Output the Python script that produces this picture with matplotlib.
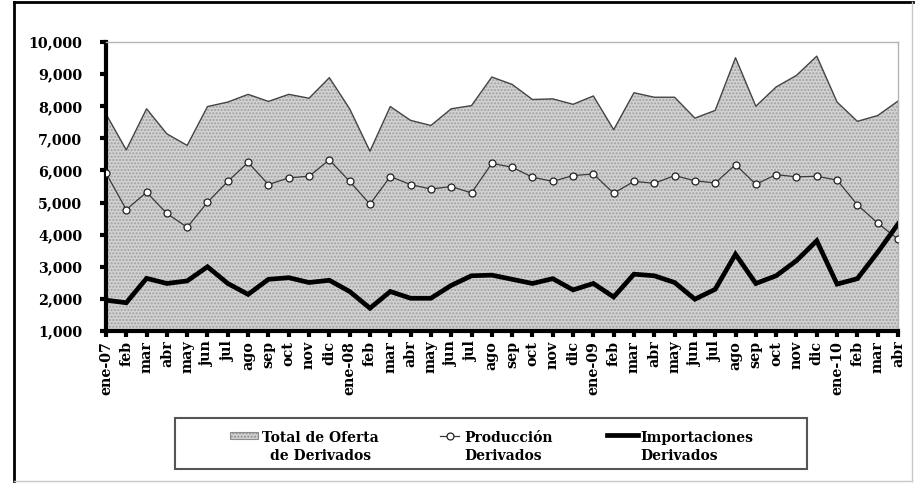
import matplotlib
matplotlib.use('Agg')
import matplotlib.pyplot as plt
from matplotlib.lines import Line2D
from matplotlib.patches import Rectangle
import numpy as np

# month labels, ene-07 .. abr-10
meses = ['ene-07', 'feb', 'mar', 'abr', 'may', 'jun', 'jul', 'ago', 'sep', 'oct', 'nov', 'dic',
         'ene-08', 'feb', 'mar', 'abr', 'may', 'jun', 'jul', 'ago', 'sep', 'oct', 'nov', 'dic',
         'ene-09', 'feb', 'mar', 'abr', 'may', 'jun', 'jul', 'ago', 'sep', 'oct', 'nov', 'dic',
         'ene-10', 'feb', 'mar', 'abr']

total_oferta = [7760, 6640, 7920, 7140, 6780, 7990, 8130, 8370, 8150, 8370, 8250, 8890,
                7920, 6600, 7990, 7560, 7400, 7920, 8020, 8910, 8680, 8210, 8230, 8060,
                8320, 7270, 8420, 8280, 8280, 7630, 7870, 9510, 8000, 8600, 8960, 9560,
                8130, 7530, 7710, 8160]

produccion = [5920, 4780, 5320, 4660, 4230, 5010, 5660, 6250, 5560, 5770, 5820, 6330,
              5660, 4950, 5810, 5560, 5420, 5500, 5300, 6220, 6100, 5790, 5660, 5840,
              5890, 5290, 5660, 5600, 5840, 5680, 5610, 6180, 5570, 5870, 5800, 5820,
              5700, 4930, 4360, 3860]

importaciones = [1960, 1880, 2640, 2480, 2560, 3000, 2480, 2140, 2610, 2660, 2510, 2580,
                 2230, 1710, 2230, 2020, 2020, 2420, 2720, 2740, 2610, 2480, 2630, 2280,
                 2480, 2060, 2770, 2720, 2510, 1990, 2300, 3390, 2480, 2720, 3190, 3810,
                 2460, 2630, 3450, 4330]

yticks = np.arange(1000, 10001, 1000)

W, H = 915.0, 483.0


def fx(px):
    return px / W


def fy(py):
    return 1 - py / H


x = np.arange(len(meses))
lbl_font = dict(family='DejaVu Serif', weight='bold', size=10.3)
leg_font = dict(family='DejaVu Serif', weight='bold', size=10)

fig = plt.figure(figsize=(9.15, 4.83), dpi=100)
ax = fig.add_axes([0.1158, 0.3147, 0.8656, 0.5983])

fill_kw = dict(facecolor='#d2d2d2', edgecolor='#a0a0a0', hatch='.....', linewidth=0)
prod_kw = dict(color='#3a3a3a', lw=0.9, marker='o', markersize=5,
               markerfacecolor='white', markeredgecolor='#222222', markeredgewidth=0.9)
imp_kw = dict(color='black', lw=3.4)

# area (dotted grey)
ax.fill_between(x, 0, total_oferta, zorder=1, **fill_kw)
ax.plot(x, total_oferta, color='#444444', lw=1.0, zorder=2)
ax.plot(x, produccion, zorder=3, **prod_kw)
ax.plot(x, importaciones, solid_joinstyle='miter', zorder=4, **imp_kw)

ax.set_xlim(0, len(meses) - 1)
ax.set_ylim(1000, 10000)
ax.set_yticks(yticks)
ax.set_yticklabels(['{:,}'.format(v) for v in yticks], fontdict=lbl_font)
ax.set_xticks(x)
ax.set_xticklabels(meses, rotation=90, fontdict=lbl_font)
ax.tick_params(axis='both', direction='out', length=4, width=3, color='black')
ax.tick_params(axis='x', pad=3)
ax.tick_params(axis='y', pad=13)

for s in ['left', 'bottom']:
    ax.spines[s].set_linewidth(3)
    ax.spines[s].set_color('black')
for s in ['top', 'right']:
    ax.spines[s].set_linewidth(1)
    ax.spines[s].set_color('#b4b4b4')

# legend box, drawn by hand so the keys sit on the first text line
fig.add_artist(Rectangle((fx(175), fy(469)), fx(807) - fx(175), fy(418) - fy(469),
                         transform=fig.transFigure, facecolor='white', edgecolor='#555555', lw=1.5))
fig.add_artist(Rectangle((fx(230), fy(438.5)), fx(258) - fx(230), fy(431.5) - fy(438.5),
                         transform=fig.transFigure, fill=True, **dict(fill_kw, edgecolor='#8c8c8c', linewidth=0.8)))
fig.add_artist(Line2D([fx(440), fx(459)], [fy(436), fy(436)], **dict(prod_kw, marker='None')))
fig.add_artist(Line2D([fx(449.5)], [fy(436)], **prod_kw))
fig.add_artist(Line2D([fx(607), fx(638)], [fy(435), fy(435)], **imp_kw))

fig.text(fx(262), fy(442), 'Total de Oferta', ha='left', va='baseline', **leg_font)
fig.text(fx(321), fy(460), 'de Derivados', ha='center', va='baseline', **leg_font)
fig.text(fx(464), fy(442), 'Producción', ha='left', va='baseline', **leg_font)
fig.text(fx(464), fy(460), 'Derivados', ha='left', va='baseline', **leg_font)
fig.text(fx(640), fy(442), 'Importaciones', ha='left', va='baseline', **leg_font)
fig.text(fx(640), fy(460), 'Derivados', ha='left', va='baseline', **leg_font)

# outer frame around the chart
fig.add_artist(Line2D([fx(14), fx(14)], [fy(2), fy(481)], color='black', lw=2))
fig.add_artist(Line2D([fx(14), fx(913)], [fy(2), fy(2)], color='black', lw=2))
fig.add_artist(Line2D([fx(912), fx(912)], [fy(2), fy(481)], color='#c8c8c8', lw=1))
fig.add_artist(Line2D([fx(14), fx(912)], [fy(481), fy(481)], color='#c8c8c8', lw=1))

fig.savefig('out.png', dpi=100)
